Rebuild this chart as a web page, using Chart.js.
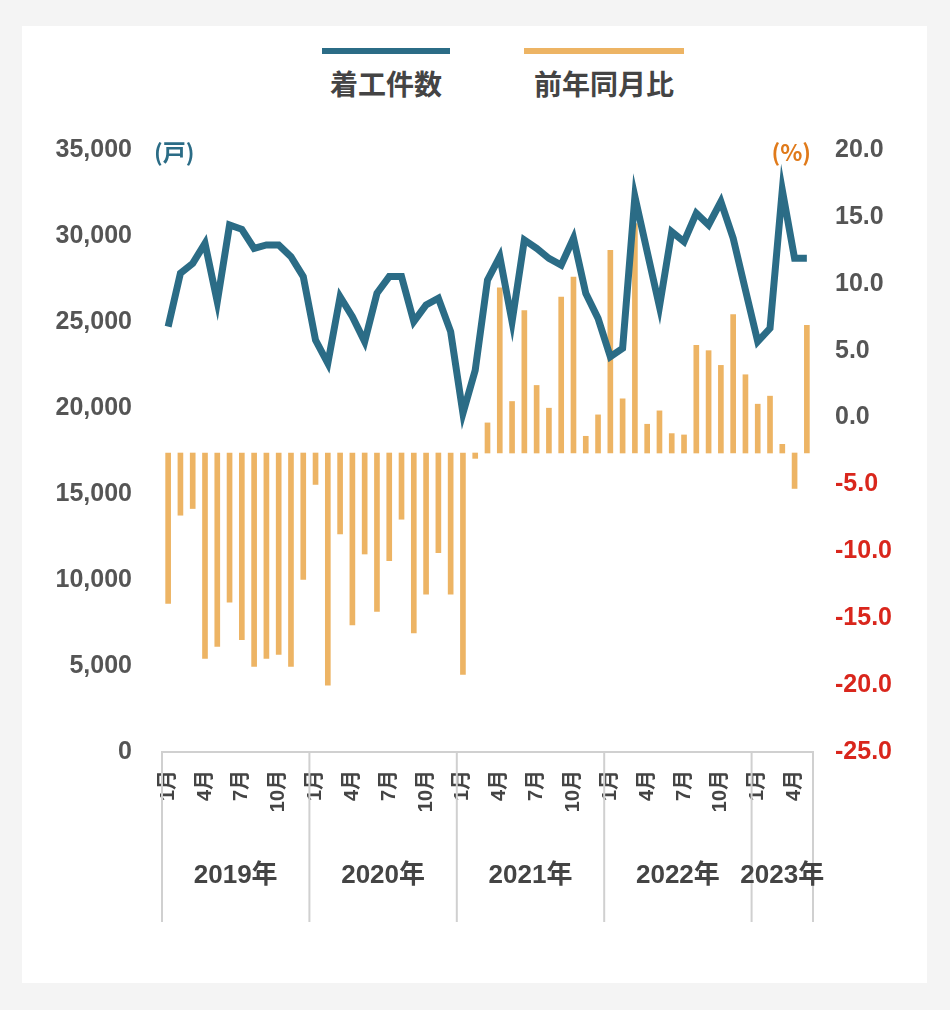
<!DOCTYPE html>
<html><head><meta charset="utf-8">
<script src="https://cdn.jsdelivr.net/npm/chart.js@4/dist/chart.umd.min.js"></script>
<style>
body{margin:0;background:#f4f4f4;width:950px;height:1010px;font-family:"Noto Sans CJK JP","Liberation Sans",sans-serif;}
#card{position:absolute;left:22px;top:26px;width:905px;height:957px;background:#fff;}
#wrap{position:absolute;left:0;top:74px;width:905px;height:822px;}
.lg{position:absolute;top:22px;font-size:28px;font-weight:bold;color:#444;text-align:center;line-height:34px;}
.lg span{display:block;height:6px;margin:0 auto 12px auto;}
</style></head><body>
<div id="card">
<div class="lg" style="left:300px;width:128px;"><span style="background:#2b6c86;width:128px"></span>着工件数</div>
<div class="lg" style="left:502px;width:160px;"><span style="background:#edb464;width:160px"></span>前年同月比</div>
<div id="wrap"><canvas id="c"></canvas></div>
</div>
<script>
const years=[2019,2020,2021,2022,2023];
const months=[];
years.forEach(y=>{for(let m=1;m<=12;m++){if(y===2023&&m>5)break;months.push(y+'-'+m);}});
const starts=[24730,27830,28410,29570,26180,30640,30390,29280,29480,29480,28800,27640,
23950,22600,26470,25310,23860,26670,27640,27640,25020,25990,26380,24440,
19690,22200,27440,28800,25020,29770,29280,28700,28310,29870,26670,25210,
22980,23470,32290,29090,25890,30250,29670,31320,30640,32000,29870,26860,
23860,24630,32670,28700,28700];
const yoy=[-13.9,-7.3,-6.8,-18.0,-17.1,-13.8,-16.6,-18.6,-18.0,-17.7,-18.6,-12.1,
-5.0,-20.0,-8.7,-15.5,-10.2,-14.5,-10.7,-7.6,-16.1,-13.2,-10.1,-13.2,
-19.2,-3.05,-0.4,9.7,1.2,8.0,2.4,0.7,9.0,10.5,-1.4,0.2,
12.5,1.4,14.5,-0.5,0.5,-1.2,-1.3,5.4,5.0,3.9,7.7,3.2,
1.0,1.6,-2.0,-5.3,6.9];
const barBase=-2.65;
const tickMonths=[1,4,7,10];
const labels=months.map(s=>{const m=+s.split('-')[1];return tickMonths.includes(m)?m+'月':'';});

const deco={id:'deco',afterDraw(ch){
  const c=ch.ctx,x=ch.scales.x,a=ch.chartArea;
  c.save();
  c.font='bold 23px "Noto Sans CJK JP"';c.textAlign='left';c.textBaseline='middle';
  c.fillStyle='#2b6c86';c.fillText('(戸)',132,a.top+2);
  c.fillStyle='#e07a1a';c.textAlign='right';c.fillText('(%)',a.right-2,a.top+2);
  c.strokeStyle='#d0d0d0';c.lineWidth=2;
  const bounds=[0];years.forEach((y,i)=>{const k=months.findIndex(s=>s.startsWith(y+'-'));if(k>0)bounds.push(k);});
  const px=k=>k===0?a.left:x.getPixelForValue(k)-(x.getPixelForValue(1)-x.getPixelForValue(0))/2;
  const pts=bounds.map(px);pts.push(a.right);
  pts.forEach(p=>{c.beginPath();c.moveTo(p,a.bottom);c.lineTo(p,ch.height);c.stroke();});
  c.fillStyle='#444';c.font='bold 26px "Liberation Sans", "Noto Sans CJK JP"';c.textAlign='center';
  years.forEach((y,i)=>c.fillText(y+'年',(pts[i]+pts[i+1])/2,a.bottom+124));
  c.restore();
}};

new Chart(document.getElementById('c'),{
  data:{labels,datasets:[
    {type:'line',label:'着工件数',data:starts,yAxisID:'y',borderColor:'#2b6c86',borderWidth:7,pointRadius:0,tension:0,order:0},
    {type:'bar',label:'前年同月比',data:yoy,yAxisID:'y1',base:barBase,backgroundColor:'#edb464',barThickness:5,order:1}
  ]},
  options:{responsive:true,maintainAspectRatio:false,animation:false,
    layout:{padding:{top:50,left:0,right:0,bottom:0}},
    plugins:{legend:{display:false},tooltip:{enabled:false}},
    scales:{
      x:{grid:{display:false,drawTicks:false},border:{color:'#d0d0d0',width:2},
        afterFit(s){s.height=170;},
        ticks:{autoSkip:false,maxRotation:90,minRotation:90,padding:18,color:'#444',font:{size:20,weight:'bold',family:'"Liberation Sans","Noto Sans CJK JP"'}}},
      y:{position:'left',min:0,max:35000,grid:{display:false},border:{display:false},
        afterFit(s){s.width=140;},
        ticks:{stepSize:5000,padding:22,color:'#555',font:{size:25,weight:'bold',family:'"Liberation Sans"'},callback:v=>v.toLocaleString('en-US')}},
      y1:{position:'right',min:-25,max:20,grid:{display:false},border:{display:false},
        afterFit(s){s.width=114;},
        ticks:{stepSize:5,padding:14,font:{size:25,weight:'bold',family:'"Liberation Sans"'},
          color:c=>c.tick&&c.tick.value<0?'#d9261c':'#555',callback:v=>v.toFixed(1)}}
    }},
  plugins:[deco]
});
</script></body></html>
